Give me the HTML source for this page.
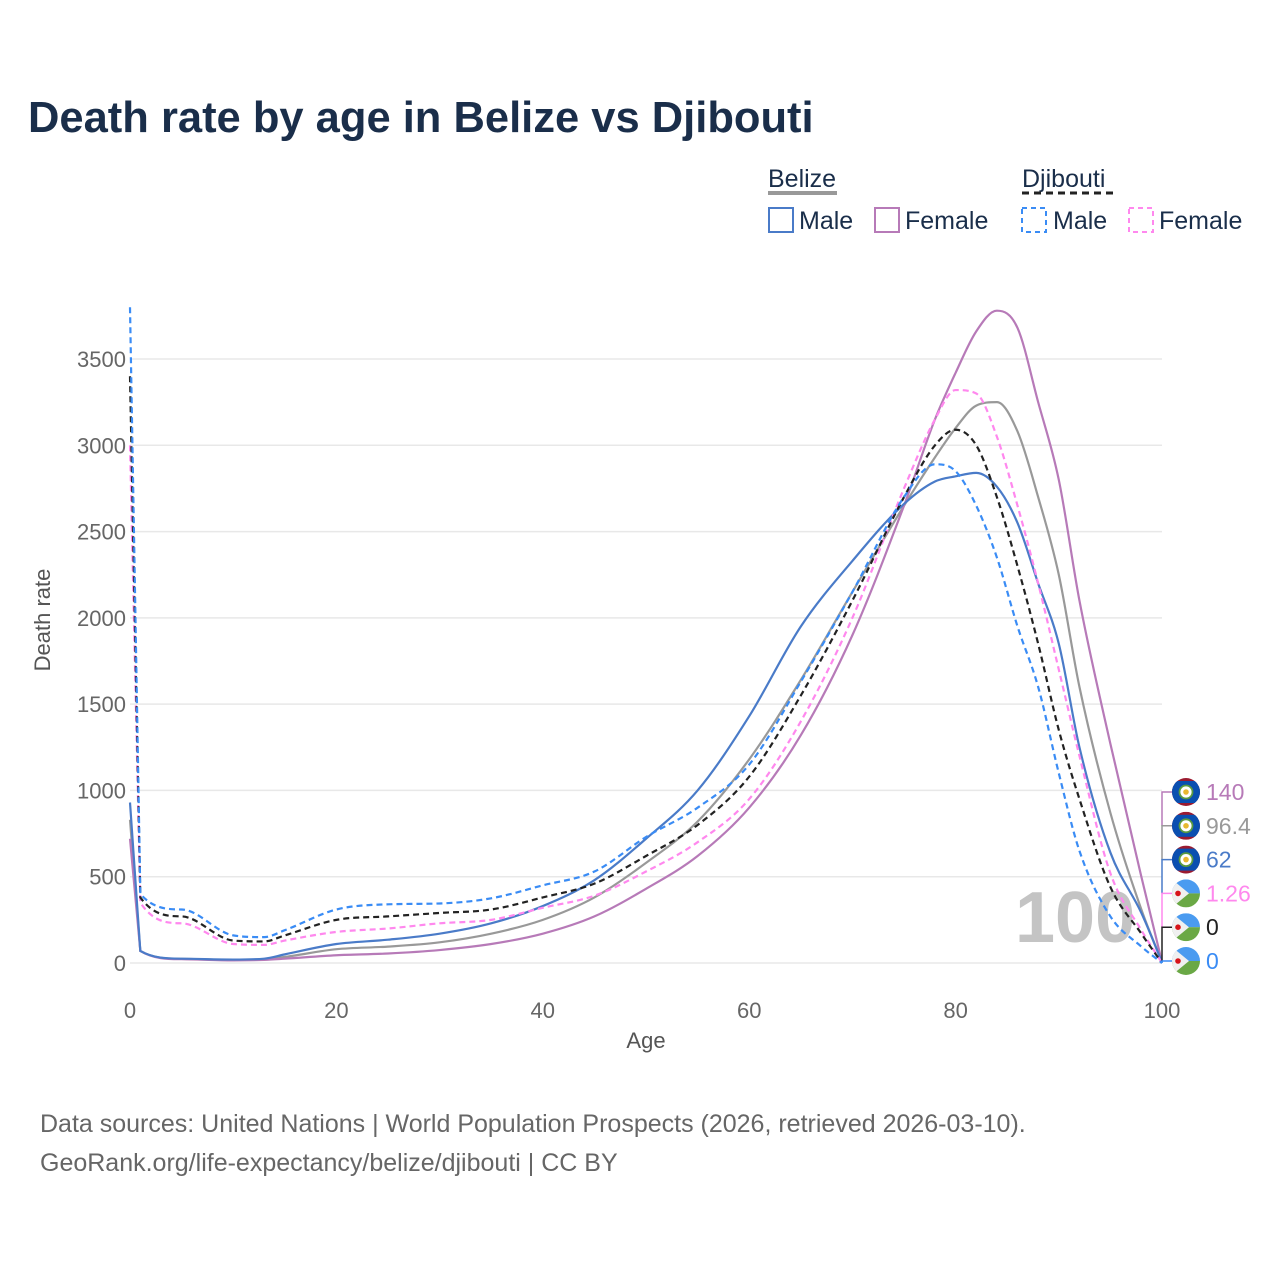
<!DOCTYPE html>
<html><head><meta charset="utf-8"><style>
body{margin:0;background:#fff;font-family:"Liberation Sans",sans-serif}
svg text{font-family:"Liberation Sans",sans-serif}
</style></head><body>
<svg id="c" width="1280" height="1280" viewBox="0 0 1280 1280">
<text x="28" y="132" font-size="43.5" font-weight="bold" fill="#1a2e4a">Death rate by age in Belize vs Djibouti</text>
<g font-size="25" fill="#1a2e4a">
<text x="768" y="187">Belize</text>
<line x1="768" x2="837" y1="193" y2="193" stroke="#999" stroke-width="4"/>
<text x="1022" y="187">Djibouti</text>
<line x1="1022" x2="1113" y1="193" y2="193" stroke="#222" stroke-width="3" stroke-dasharray="7,5"/>
<g><rect x="769" y="208" width="24" height="24" fill="none" stroke="#4a7bc8" stroke-width="2"/><text x="799" y="229">Male</text></g>
<g><rect x="875" y="208" width="24" height="24" fill="none" stroke="#b77ab8" stroke-width="2"/><text x="905" y="229">Female</text></g>
<g><rect x="1022" y="208" width="24" height="24" fill="none" stroke="#3a8cf5" stroke-width="2" stroke-dasharray="5,4"/><text x="1053" y="229">Male</text></g>
<g><rect x="1129" y="208" width="24" height="24" fill="none" stroke="#ff88ee" stroke-width="2" stroke-dasharray="5,4"/><text x="1159" y="229">Female</text></g>
</g>
<g id="grid"></g>
<text x="1015" y="942" font-size="72" font-weight="bold" fill="#c4c4c4">100</text>
<g id="lines"></g>
<g id="ends"></g>
<text x="50" y="620" font-size="22" fill="#555" transform="rotate(-90 50 620)" text-anchor="middle">Death rate</text>
<text x="646" y="1048" font-size="22" fill="#555" text-anchor="middle">Age</text>
<text x="40" y="1132" font-size="25" fill="#666">Data sources: United Nations | World Population Prospects (2026, retrieved 2026-03-10).</text>
<text x="40" y="1171" font-size="25" fill="#666">GeoRank.org/life-expectancy/belize/djibouti | CC BY</text>
</svg>
<script>
const ages=[0,1,5,10,13,15,20,25,30,35,40,45,50,55,60,65,70,75,78,80,82,84,86,88,90,92,95,98,100];
const belizeMale=[930,70,25,20,25,50,110,135,170,230,330,480,720,1000,1430,1950,2330,2660,2790,2820,2840,2760,2550,2200,1850,1250,640,290,5];
const belizeFemale=[720,70,22,15,18,25,45,55,75,110,170,270,430,620,900,1320,1900,2650,3150,3420,3660,3780,3680,3250,2800,2100,1270,500,5];
const belizeTotal=[830,70,24,18,22,35,80,95,120,170,250,380,580,820,1180,1640,2150,2650,2930,3100,3230,3250,3080,2700,2250,1600,870,310,5];
const djiboutiMale=[3800,400,310,160,150,190,310,340,345,375,450,530,730,900,1150,1630,2150,2700,2890,2850,2650,2350,1950,1600,1100,650,270,95,0];
const djiboutiTotal=[3400,380,270,130,125,160,250,270,290,310,380,460,620,800,1080,1550,2100,2700,3000,3090,3000,2700,2300,1850,1350,950,440,170,0];
const djiboutiFemale=[3000,350,230,110,105,130,180,200,230,250,320,390,530,700,950,1400,2000,2750,3150,3320,3300,3050,2650,2200,1700,1200,520,190,1];
const yTicks=[0,500,1000,1500,2000,2500,3000,3500];
const xTicks=[0,20,40,60,80,100];
const endLabels=["140","96.4","62","1.26","0","0"];
const NS="http://www.w3.org/2000/svg";
const X=a=>130+a*10.32;
const Y=v=>963-v*0.17257;
function mk(t,at,p){const e=document.createElementNS(NS,t);for(const k in at)e.setAttribute(k,at[k]);p.appendChild(e);return e;}
const grid=document.getElementById('grid');
yTicks.forEach(v=>{
 const l=mk('line',{x1:130,x2:1162,y1:Y(v),y2:Y(v),stroke:'#e8e8e8','stroke-width':1.5},grid);
 
 
 const t=mk('text',{x:126,y:Y(v)+8,'font-size':22,fill:'#666','text-anchor':'end'},grid);t.textContent=v;
 
 
});
xTicks.forEach(v=>{
 const t=mk('text',{x:X(v),y:1018,'font-size':22,fill:'#666','text-anchor':'middle'},grid);t.textContent=v;
 
 
});
function path(vals){
 const px=ages.map(X), py=vals.map(Y), n=px.length;
 const dl=[],m=[];
 for(let i=0;i<n-1;i++)dl.push((py[i+1]-py[i])/(px[i+1]-px[i]));
 m[0]=dl[0];m[n-1]=dl[n-2];
 for(let i=1;i<n-1;i++){m[i]=dl[i-1]*dl[i]<=0?0:(dl[i-1]+dl[i])/2;}
 for(let i=0;i<n-1;i++){
  if(dl[i]===0){m[i]=0;m[i+1]=0;continue;}
  const a=m[i]/dl[i],b=m[i+1]/dl[i],s=a*a+b*b;
  if(s>9){const t=3/Math.sqrt(s);m[i]=t*a*dl[i];m[i+1]=t*b*dl[i];}
 }
 let d='M'+px[0]+','+py[0]+'L'+px[1]+','+py[1];
 for(let i=1;i<n-1;i++){
  const h=(px[i+1]-px[i])/3;
  d+='C'+(px[i]+h)+','+(py[i]+m[i]*h)+' '+(px[i+1]-h)+','+(py[i+1]-m[i+1]*h)+' '+px[i+1]+','+py[i+1];
 }
 return d;
}
const series=[
 [belizeTotal,'#999','','belize-total-line'],
 [belizeFemale,'#b77ab8','','belize-female-line'],
 [belizeMale,'#4a7bc8','','belize-male-line'],
 [djiboutiFemale,'#ff88ee','6,4','djibouti-female-line'],
 [djiboutiTotal,'#222','6,4','djibouti-total-line'],
 [djiboutiMale,'#3a8cf5','6,4','djibouti-male-line']];
const lg=document.getElementById('lines');
series.forEach(s=>{
 const e=mk('path',{d:path(s[0]),fill:'none',stroke:s[1],'stroke-width':2.2,'stroke-dasharray':s[2]},lg);
 
 
});
const ends=document.getElementById('ends');
const defs=mk('defs',{},ends);
const order=[['#b77ab8','b'],['#999','b'],['#4a7bc8','b'],['#ff88ee','d'],['#222','d'],['#3a8cf5','d']];
order.forEach((o,i)=>{
 const ly=792+i*33.8, nextY=i<5?792+(i+1)*33.8:963;
 mk('polyline',{points:`1176,${ly} 1162,${ly} 1162,${nextY}`,fill:'none',stroke:o[0],'stroke-width':1.5},ends);
 const cx=1186,cy=ly;
 const cp=mk('clipPath',{id:'cl'+i},defs);
 mk('circle',{cx,cy,r:14},cp);
 const g=mk('g',{'clip-path':`url(#cl${i})`},ends);
 
 
 if(o[1]==='b'){
  mk('rect',{x:cx-14,y:cy-14,width:28,height:28,fill:'#9b1b30'},g);
  mk('rect',{x:cx-14,y:cy-11,width:28,height:22,fill:'#0a4fb0'},g);
  mk('circle',{cx,cy,r:6.5,fill:'#fff',stroke:'#5a9a40','stroke-width':1.8},g);
  mk('circle',{cx,cy,r:2.8,fill:'#e8b830'},g);
 } else {
  mk('rect',{x:cx-14,y:cy-14,width:28,height:14,fill:'#4a9bf0'},g);
  mk('rect',{x:cx-14,y:cy,width:28,height:14,fill:'#6aa845'},g);
  mk('path',{d:`M${cx-14},${cy-14} L${cx+3},${cy} L${cx-14},${cy+14} Z`,fill:'#f0f0f0'},g);
  mk('circle',{cx:cx-8,cy,r:2.8,fill:'#d7141a'},g);
 }
 const t=mk('text',{x:1206,y:ly+8,'font-size':23,fill:o[0]},ends);t.textContent=endLabels[i];
 
 
});
</script>
</body></html>
